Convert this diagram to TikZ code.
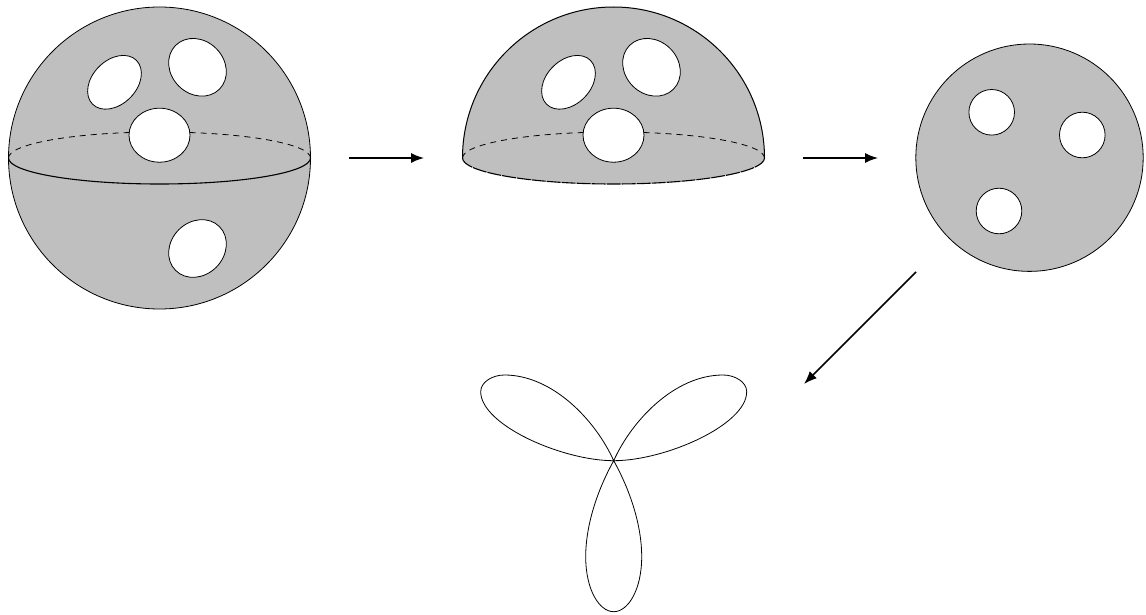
\documentclass[tikz,border=0pt]{standalone}
\usetikzlibrary{arrows.meta}
\definecolor{sgray}{gray}{0.75}
\tikzset{
  outline/.style={draw=black,line width=0.8pt},
  body/.style={outline,fill=sgray},
  hole/.style={outline,fill=white},
  backrim/.style={draw=black,line width=0.8pt,dash pattern=on 6pt off 5pt},
  maparrow/.style={draw=black,line width=1.5pt,-{Latex[length=13pt,width=10pt]}}
}
\newcommand{\holes}[1]{%
  \begin{scope}[xshift=#1pt]
  \draw[hole,rotate around={45:(114.5,82.3)}] (114.5,82.3) ellipse [x radius=31,y radius=22];
  \draw[hole,rotate around={-45:(197.5,67.3)}] (197.5,67.3) ellipse [x radius=31,y radius=26.5];
  \draw[hole] (159.5,135.2) ellipse [x radius=30.5,y radius=27];
  \end{scope}}
\begin{document}
\begin{tikzpicture}[x=1pt,y=-1pt]
\useasboundingbox (0,0) rectangle (1146,615);
% full sphere
\draw[body] (159.5,158) circle [radius=151];
\draw[backrim] (8.5,158) arc [start angle=180,end angle=360,x radius=151,y radius=26];
\draw[outline,line width=1.1pt] (8.5,158) arc [start angle=180,end angle=0,x radius=151,y radius=26];
\holes{0}
\draw[hole,rotate around={45:(197.5,248.5)}] (197.5,248.5) ellipse [x radius=31,y radius=26.5];
% hemisphere
\fill[sgray] (462.5,158) arc [start angle=180,end angle=360,radius=151]
  -- (762.2,162.5) arc [start angle=10,end angle=170,x radius=151,y radius=26] -- cycle;
\draw[outline,line width=1pt] (462.5,158) arc [start angle=180,end angle=360,radius=151];
\draw[backrim] (462.5,158) arc [start angle=180,end angle=360,x radius=151,y radius=26];
\draw[outline,line width=1.1pt,dash pattern=on 14pt off 1pt] (462.5,158) arc [start angle=180,end angle=0,x radius=151,y radius=26];
\holes{454}
% disc
\draw[body] (1029.5,157.7) circle [radius=113.7];
\draw[hole] (991.7,112.3) circle [radius=22.8];
\draw[hole] (1082.3,135) circle [radius=22.8];
\draw[hole] (999,211) circle [radius=22.8];
% arrows
\coordinate (a1) at (349,158); \coordinate (b1) at (424,158);
\coordinate (a2) at (803,158); \coordinate (b2) at (878,158);
\coordinate (a3) at (916,272); \coordinate (b3) at (804,384);
\draw[maparrow] (a1) -- (b1);
\draw[maparrow] (a2) -- (b2);
\draw[maparrow] (a3) -- (b3);
% three-petal rose
\draw[outline] (613.7,460.7)
  .. controls (665,460.7) and (746.7,425) .. (746.7,391.7)
  .. controls (746.7,382) and (735,375) .. (723,375)
  .. controls (675,375) and (632,420) .. (613.7,460.7)
  .. controls (595.4,420) and (552.4,375) .. (504.4,375)
  .. controls (492.4,375) and (480.7,382) .. (480.7,391.7)
  .. controls (480.7,425) and (562.4,460.7) .. (613.7,460.7)
  .. controls (630,490) and (641.7,525) .. (641.7,556.7)
  .. controls (641.7,590) and (628,611.7) .. (613.7,611.7)
  .. controls (599.4,611.7) and (585.7,590) .. (585.7,556.7)
  .. controls (585.7,525) and (597.4,490) .. (613.7,460.7);
\end{tikzpicture}
\end{document}
